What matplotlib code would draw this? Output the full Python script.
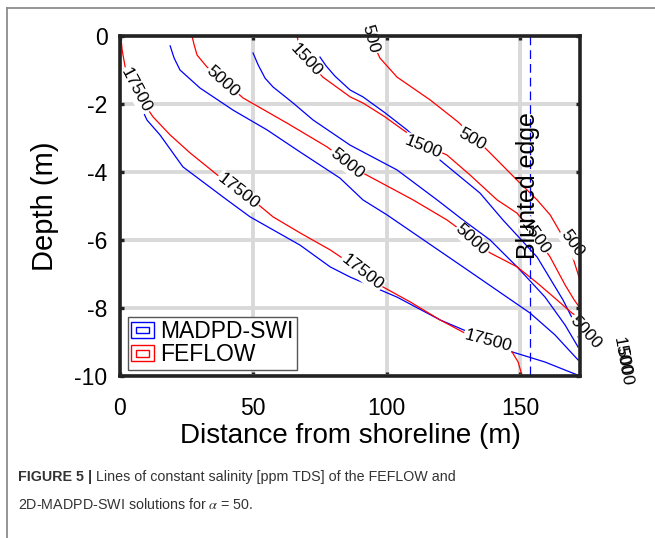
import matplotlib
matplotlib.use("Agg")
import matplotlib.pyplot as plt
from matplotlib.patches import Rectangle, Patch
from matplotlib.legend_handler import HandlerBase
from matplotlib.lines import Line2D
from matplotlib import font_manager as fm

# ---------------- data (distance m, depth m) ----------------
levels = [500, 1500, 5000, 17500]

madpd_x_500 = [75.0, 77.3, 80.6, 86.3, 91.1, 99.4, 107.6, 120.0, 135.0, 143.6, 156.4, 166.1, 169.9, 171.8]
madpd_y_500 = [-0.62, -0.88, -1.18, -1.59, -1.79, -2.26, -2.76, -3.65, -4.62, -5.41, -6.5, -7.76, -8.35, -8.85]
madpd_x_1500 = [49.9, 51.8, 54.4, 57.4, 64.9, 72.4, 86.3, 103.9, 118.9, 128.6, 138.8, 148.9, 159.4, 166.9, 171.8]
madpd_y_1500 = [-0.5, -0.85, -1.24, -1.5, -1.97, -2.47, -3.21, -3.94, -4.82, -5.41, -6.0, -6.79, -7.68, -8.5, -9.15]
madpd_x_5000 = [18.8, 20.3, 22.5, 30.0, 42.4, 55.1, 67.5, 82.5, 91.1, 100.1, 128.6, 153.8, 163.1, 171.8]
madpd_y_5000 = [-0.29, -0.65, -1.0, -1.53, -2.18, -2.76, -3.41, -4.18, -4.82, -5.26, -6.79, -8.15, -8.79, -9.53]
madpd_x_17500 = [1.5, 3.8, 7.5, 10.1, 15.0, 23.6, 40.1, 48.8, 67.5, 78.8, 86.3, 103.9, 120.0, 135.0, 147.0, 159.4, 172.5]
madpd_y_17500 = [-0.97, -1.44, -2.03, -2.47, -2.91, -3.85, -4.82, -5.32, -6.15, -6.79, -7.09, -7.68, -8.35, -8.85, -9.29, -9.59, -10.0]

feflow_x_500 = [94.5, 95.3, 97.5, 103.9, 116.3, 126.8, 133.1, 138.8, 148.9, 156.4, 161.3, 165.0, 169.5, 172.5]
feflow_y_500 = [0.0, -0.29, -0.65, -1.21, -1.88, -2.53, -3.0, -3.44, -4.24, -4.82, -5.26, -5.76, -6.44, -7.18]
feflow_x_1500 = [66.4, 67.1, 69.4, 76.1, 86.3, 91.1, 99.4, 106.1, 114.4, 122.6, 131.3, 141.4, 148.9, 155.6, 161.3, 166.9, 170.3, 172.5]
feflow_y_1500 = [0.0, -0.26, -0.65, -1.21, -1.79, -1.97, -2.38, -2.76, -3.21, -3.5, -4.09, -4.82, -5.21, -5.85, -6.5, -7.32, -7.76, -8.0]
feflow_x_5000 = [27.0, 27.8, 28.9, 32.6, 39.4, 46.1, 62.6, 77.6, 91.1, 109.9, 122.6, 131.3, 138.8, 148.9, 156.4, 163.1, 169.5, 172.5]
feflow_y_5000 = [0.0, -0.26, -0.56, -0.91, -1.35, -1.82, -2.56, -3.26, -4.03, -4.82, -5.41, -5.91, -6.38, -6.79, -7.26, -7.71, -8.15, -8.29]
feflow_x_17500 = [0.3, 0.8, 1.9, 5.6, 9.4, 12.4, 18.8, 26.3, 37.5, 48.8, 57.4, 67.5, 78.8, 90.0, 98.6, 108.8, 120.0, 131.3, 142.5, 147.0, 149.3, 150.8]
feflow_y_17500 = [0.0, -0.41, -0.9, -1.59, -2.03, -2.38, -2.91, -3.44, -4.15, -4.76, -5.32, -5.79, -6.29, -6.88, -7.38, -7.82, -8.35, -8.82, -9.15, -9.29, -9.59, -10.0]

blunted_x = 153.75

# contour label texts
label_texts = ["17500", "5000", "1500", "500", "17500", "5000", "1500", "500",
               "17500", "5000", "1500", "500", "5000", "17500", "1500", "5000"]
# label placement (x, y, rotation) -- layout
label_pos = [(6.0, -1.59, -62), (38.6, -1.35, -42), (69.8, -0.71, -47), (93.8, -0.09, -75),
             (44.3, -4.56, -38), (85.1, -3.74, -39), (113.6, -3.26, -22), (132.0, -3.03, -30),
             (90.8, -6.94, -38), (132.0, -6.0, -42), (155.6, -5.91, -55), (169.5, -6.09, -55),
             (174.4, -8.71, -48), (138.0, -8.97, -15), (187.9, -9.41, -80), (188.9, -9.70, -80)]

xticks = [0, 50, 100, 150]
yticks = [0, -2, -4, -6, -8, -10]
series_names = ["MADPD-SWI", "FEFLOW"]

# ---------------- styling ----------------
FONT = "Liberation Sans"
names = {f.name for f in fm.fontManager.ttflist}
if "Liberation Sans Narrow" in names:
    CAP_FONT, CAP_SIZE = "Liberation Sans Narrow", 12.2
else:
    CAP_FONT, CAP_SIZE = "Liberation Sans", 10.3

plt.rcParams["font.family"] = [FONT, "DejaVu Sans"]

W, H = 655, 538
fig = plt.figure(figsize=(W / 100, H / 100), dpi=100)
ax = fig.add_axes([120 / W, 1 - 376 / H, 460 / W, 340 / H])

BLUE = "#0000ff"
RED = "#ff0000"
lw = 0.9

madpd = [(madpd_x_500, madpd_y_500), (madpd_x_1500, madpd_y_1500),
         (madpd_x_5000, madpd_y_5000), (madpd_x_17500, madpd_y_17500)]
feflow = [(feflow_x_500, feflow_y_500), (feflow_x_1500, feflow_y_1500),
          (feflow_x_5000, feflow_y_5000), (feflow_x_17500, feflow_y_17500)]
for xs, ys in madpd:
    ax.plot(xs, ys, color=BLUE, lw=lw, zorder=2, solid_joinstyle="round")
for xs, ys in feflow:
    ax.plot(xs, ys, color=RED, lw=lw, zorder=2, solid_joinstyle="round")

ax.plot([blunted_x, blunted_x], [0, -10], color=BLUE, lw=0.9, dashes=(7, 4), zorder=2)

for i, (t, (x, y, r)) in enumerate(zip(label_texts, label_pos)):
    outside = x > 180
    ax.text(x, y, t, rotation=r, rotation_mode="anchor", ha="center", va="center",
            fontsize=12.5, color="black", zorder=2.2, clip_on=False,
            bbox=None if outside else dict(boxstyle="square,pad=0.05", fc="white", ec="none"))

ax.text(153.0, -4.4, "Blunted edge", rotation=90, ha="center", va="center",
        fontsize=18, color="black", zorder=3)

ax.set_xlim(0, 172.5)
ax.set_ylim(-10, 0)
ax.set_xticks(xticks)
ax.set_yticks(yticks)
ax.set_xticklabels([str(v) for v in xticks])
ax.set_yticklabels([str(v) for v in yticks])
ax.grid(True, color="#d9d9d9", lw=2.8)
ax.set_axisbelow(True)
for s in ax.spines.values():
    s.set_linewidth(2.6)
    s.set_color("#222222")
ax.tick_params(direction="in", length=3, width=2.4, top=True, right=True,
               labelsize=16.5, color="#222222", pad=6)
ax.tick_params(axis="x", pad=15)
ax.tick_params(axis="y", pad=9)
ax.set_xlabel("Distance from shoreline (m)", fontsize=20, labelpad=2)
ax.set_ylabel("Depth (m)", fontsize=21, labelpad=11)


class NestedRect(HandlerBase):
    def create_artists(self, legend, orig_handle, xdescent, ydescent, width, height, fontsize, trans):
        c = orig_handle.get_edgecolor()
        outer = Rectangle((-xdescent, -ydescent), width, height, fill=False,
                          edgecolor=c, lw=1.0, transform=trans)
        inner = Rectangle((-xdescent + width * 0.22, -ydescent + height * 0.3),
                          width * 0.56, height * 0.4, fill=False, edgecolor=c, lw=1.0, transform=trans)
        return [outer, inner]


handles = [Patch(edgecolor=BLUE, facecolor="none"), Patch(edgecolor=RED, facecolor="none")]
leg = ax.legend(handles, series_names, loc="upper left", bbox_to_anchor=(0.017, 0.175),
                borderaxespad=0, fontsize=16.5, handler_map={Patch: NestedRect()},
                handlelength=1.0, handleheight=0.7, handletextpad=0.25, labelspacing=0.02,
                borderpad=0.15, fancybox=False, framealpha=1, edgecolor="#555555")
leg.get_frame().set_linewidth(1.0)

# frame lines of the figure panel
fig.add_artist(Line2D([7 / W, 1], [1 - 8 / H, 1 - 8 / H], transform=fig.transFigure,
                      color="#8c8c8c", lw=1.3))
fig.add_artist(Line2D([7 / W, 7 / W], [0, 1 - 8 / H], transform=fig.transFigure,
                      color="#8c8c8c", lw=1.3))

# caption
cap_color = "#333333"
t1 = fig.text(18 / W, 1 - 481 / H, "FIGURE 5 |", fontsize=CAP_SIZE, fontweight="bold",
              family=CAP_FONT, color=cap_color, va="baseline", ha="left")
fig.canvas.draw()
bb = t1.get_window_extent(fig.canvas.get_renderer())
fig.text((bb.x1 + 4) / W, 1 - 481 / H, "Lines of constant salinity [ppm TDS] of the FEFLOW and",
         fontsize=CAP_SIZE, family=CAP_FONT, color=cap_color, va="baseline", ha="left")
fig.text(18 / W, 1 - 509 / H, r"2D-MADPD-SWI solutions for $\alpha$ = 50.",
         fontsize=CAP_SIZE, family=CAP_FONT, color=cap_color, va="baseline", ha="left",
         math_fontfamily="stix")

fig.savefig("out.png", dpi=100)
